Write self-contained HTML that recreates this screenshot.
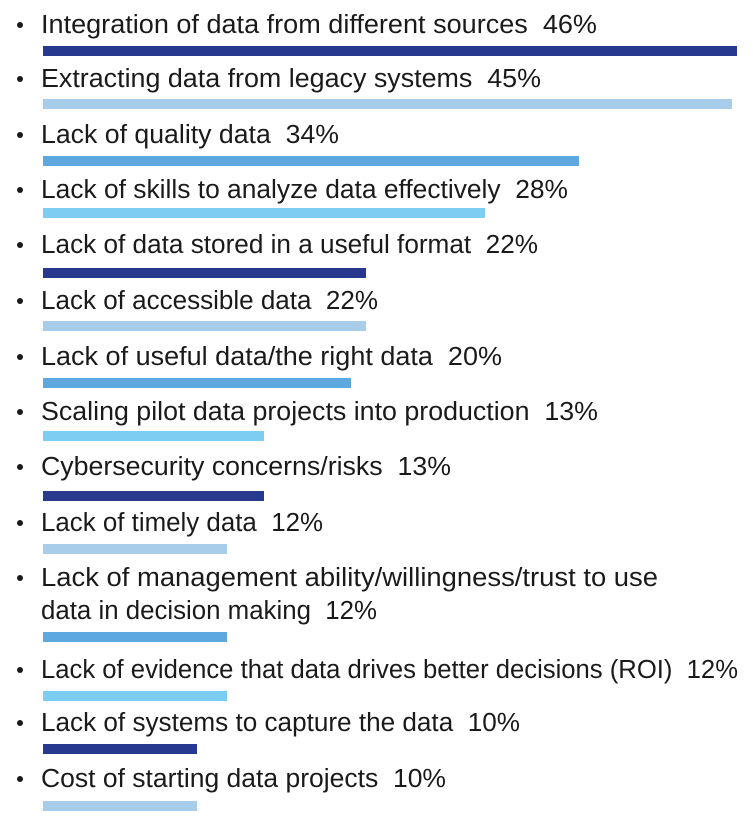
<!DOCTYPE html>
<html><head><meta charset="utf-8"><style>
html,body{margin:0;padding:0;background:#fff;}
svg{display:block}
text{font-family:"Liberation Sans",sans-serif;font-size:25.5px;fill:#1a1a1a;white-space:pre;}
</style></head><body>
<svg width="753" height="827" xmlns="http://www.w3.org/2000/svg">
<g>
<text x="41" y="33" textLength="556" lengthAdjust="spacingAndGlyphs">Integration of data from different sources  46%</text>
<text x="41" y="87" textLength="500" lengthAdjust="spacingAndGlyphs">Extracting data from legacy systems  45%</text>
<text x="41" y="143" textLength="298" lengthAdjust="spacingAndGlyphs">Lack of quality data  34%</text>
<text x="41" y="198" textLength="527" lengthAdjust="spacingAndGlyphs">Lack of skills to analyze data effectively  28%</text>
<text x="41" y="253" textLength="497" lengthAdjust="spacingAndGlyphs">Lack of data stored in a useful format  22%</text>
<text x="41" y="309" textLength="337" lengthAdjust="spacingAndGlyphs">Lack of accessible data  22%</text>
<text x="41" y="365" textLength="461" lengthAdjust="spacingAndGlyphs">Lack of useful data/the right data  20%</text>
<text x="41" y="420" textLength="557" lengthAdjust="spacingAndGlyphs">Scaling pilot data projects into production  13%</text>
<text x="41" y="475" textLength="410" lengthAdjust="spacingAndGlyphs">Cybersecurity concerns/risks  13%</text>
<text x="41" y="531" textLength="282" lengthAdjust="spacingAndGlyphs">Lack of timely data  12%</text>
<text x="41" y="586" textLength="617" lengthAdjust="spacingAndGlyphs">Lack of management ability/willingness/trust to use</text>
<text x="41" y="619" textLength="336" lengthAdjust="spacingAndGlyphs">data in decision making  12%</text>
<text x="41" y="678" textLength="697" lengthAdjust="spacingAndGlyphs">Lack of evidence that data drives better decisions (ROI)  12%</text>
<text x="41" y="731" textLength="479" lengthAdjust="spacingAndGlyphs">Lack of systems to capture the data  10%</text>
<text x="41" y="787" textLength="405" lengthAdjust="spacingAndGlyphs">Cost of starting data projects  10%</text>
</g>
<g fill="#1a1a1a">
<circle cx="20" cy="25" r="3"/><circle cx="20" cy="79" r="3"/><circle cx="20" cy="135" r="3"/>
<circle cx="20" cy="190" r="3"/><circle cx="20" cy="245" r="3"/><circle cx="20" cy="301" r="3"/>
<circle cx="20" cy="357" r="3"/><circle cx="20" cy="412" r="3"/><circle cx="20" cy="467" r="3"/>
<circle cx="20" cy="523" r="3"/><circle cx="20" cy="578" r="3"/><circle cx="20" cy="670" r="3"/>
<circle cx="20" cy="723" r="3"/><circle cx="20" cy="779" r="3"/>
</g>
<g>
<rect x="43" y="46" width="694" height="10" fill="#27398f"/>
<rect x="43" y="99" width="689" height="10" fill="#a8cdea"/>
<rect x="43" y="156" width="536" height="10" fill="#5ea8e0"/>
<rect x="43" y="208" width="442" height="10" fill="#7dcdf3"/>
<rect x="43" y="268" width="323" height="10" fill="#27398f"/>
<rect x="43" y="321" width="323" height="10" fill="#a8cdea"/>
<rect x="43" y="378" width="308" height="10" fill="#5ea8e0"/>
<rect x="43" y="431" width="221" height="10" fill="#7dcdf3"/>
<rect x="43" y="491" width="221" height="10" fill="#27398f"/>
<rect x="43" y="544" width="184" height="10" fill="#a8cdea"/>
<rect x="43" y="632" width="184" height="10" fill="#5ea8e0"/>
<rect x="43" y="691" width="184" height="10" fill="#7dcdf3"/>
<rect x="43" y="744" width="154" height="10" fill="#27398f"/>
<rect x="43" y="801" width="154" height="10" fill="#a8cdea"/>
</g>
</svg>
</body></html>
